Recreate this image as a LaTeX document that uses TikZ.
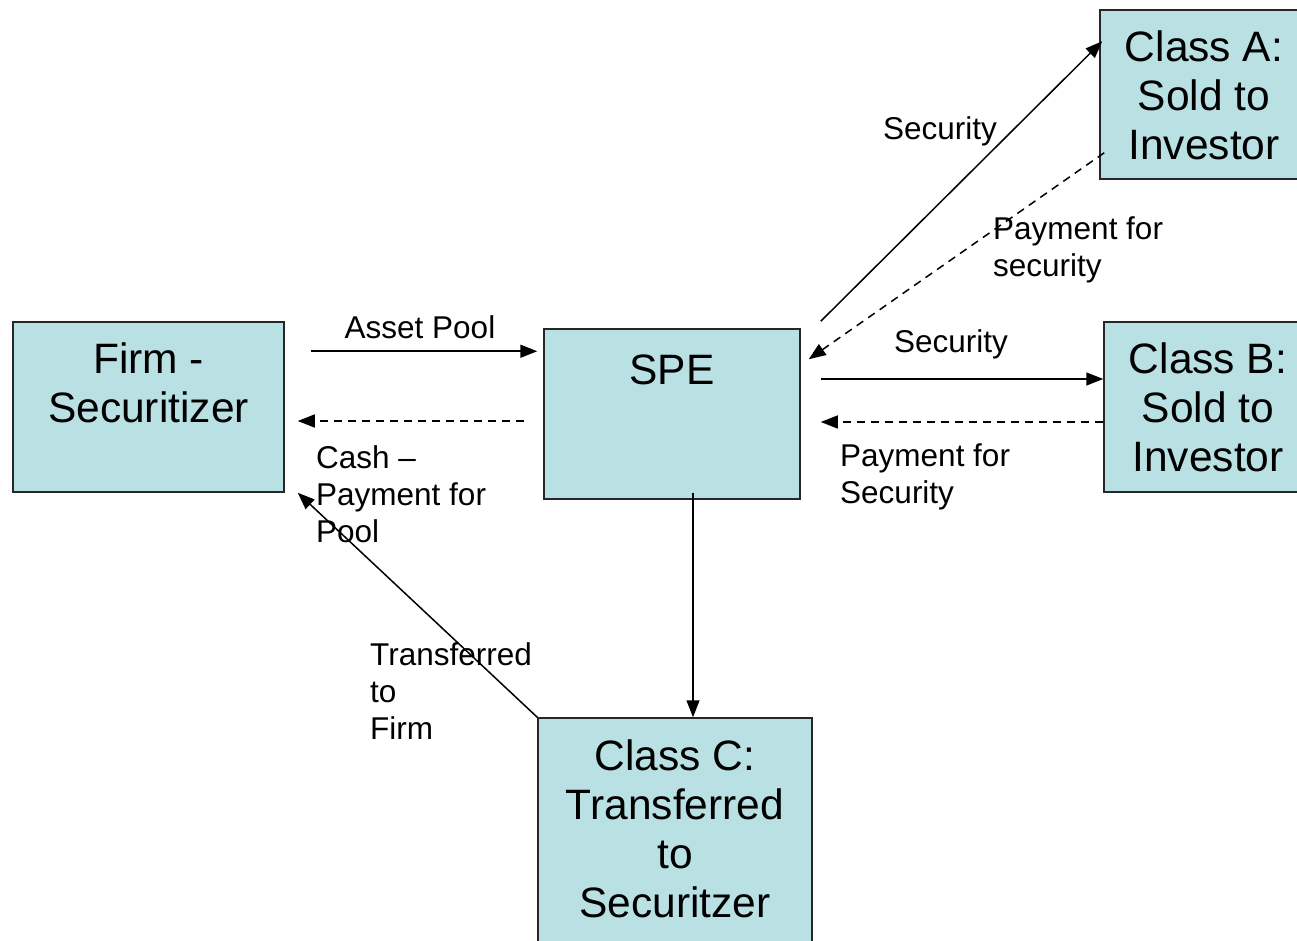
\documentclass[tikz,border=0pt]{standalone}
\usepackage{fontspec}
\setmainfont{Liberation Sans}
\usetikzlibrary{arrows.meta,positioning}
\definecolor{boxfill}{RGB}{185,224,227}

\tikzstyle{boxnode} = [rectangle, draw=black!85, fill=boxfill, line width=1.5pt, inner sep=0pt]
\tikzstyle{boxtext} = [align=center, inner sep=0pt, font=\fontsize{42.5}{49}\selectfont]
\tikzstyle{lbl} = [align=left, inner sep=0pt, font=\fontsize{31.5}{37}\selectfont]
\tikzstyle{flow} = [-{Triangle[length=17pt,width=13pt]}, line width=1.5pt]
\tikzstyle{payflow} = [flow, dash pattern=on 8pt off 6pt]

\begin{document}
\begin{tikzpicture}[x=1pt, y=1pt]
        \useasboundingbox (0,0) rectangle (1297,940);

        \node [boxnode, minimum width=271pt, minimum height=170pt] (firm) at (148.5,533) {};
        \node [boxnode, minimum width=256pt, minimum height=170pt] (spe) at (672,526) {};
        \node [boxnode, minimum width=208pt, minimum height=169pt] (clsA) at (1204,845.5) {};
        \node [boxnode, minimum width=208pt, minimum height=170pt] (clsB) at (1208,533) {};
        \node [boxnode, minimum width=274pt, minimum height=224pt] (clsC) at (675,110) {};

        \node [boxtext, below=21pt of firm.north] (firmtxt) {Firm -\\Securitizer};
        \node [boxtext, below=26pt of spe.north] (spetxt) {SPE};
        \node [boxtext, below=21pt of clsA.north] (clsAtxt) {Class A:\\Sold to\\Investor};
        \node [boxtext, below=21pt of clsB.north] (clsBtxt) {Class B:\\Sold to\\Investor};
        \node [boxtext, below=22pt of clsC.north] (clsCtxt) {Class C:\\Transferred\\to\\Securitzer};

        % firm <-> spe
        \draw [flow, shorten <=26pt, shorten >=6pt] ([yshift=-30pt]firm.north east) -- ([yshift=-30pt]firm.north east -| spe.west)
                node[lbl, midway, above=12pt, xshift=6pt] (poollbl) {Asset Pool};
        \draw [payflow, shorten <=19pt, shorten >=13pt] ([yshift=-7pt]spe.west) -- ([yshift=-7pt]spe.west -| firm.east);
        \node [lbl, anchor=north west] (cashlbl) at (316,495) {Cash --\\Payment for\\Pool};

        % spe <-> class A
        \draw [flow] ([xshift=20pt,yshift=7pt]spe.north east) -- ([xshift=3pt,yshift=-32pt]clsA.north west);
        \node [lbl] (secAlbl) at (940,809) {Security};
        \draw [payflow] ([xshift=5pt,yshift=27pt]clsA.south west) -- ([xshift=8pt,yshift=-31pt]spe.north east);
        \node [lbl, anchor=north west] (payAlbl) at (993,723) {Payment for\\security};

        % spe <-> class B
        \draw [flow, shorten <=20pt] ([yshift=35pt]spe.east) -- ([yshift=35pt]spe.east -| clsB.west);
        \node [lbl] (secBlbl) at (951,596) {Security};
        \draw [payflow, shorten >=20pt] ([yshift=-15pt]clsB.west) -- ([yshift=-15pt]clsB.west -| spe.east);
        \node [lbl, anchor=north west] (payBlbl) at (840,496) {Payment for\\Security};

        % spe -> class C -> firm
        \draw [flow] ([xshift=21pt,yshift=7pt]spe.south) -- ([xshift=21pt]spe.south |- clsC.north);
        \draw [flow] (clsC.north west) -- ([xshift=13pt]firm.south east);
        \node [lbl, anchor=north west] (toFirmlbl) at (370,298) {Transferred\\to\\Firm};

    \end{tikzpicture}
\end{document}
